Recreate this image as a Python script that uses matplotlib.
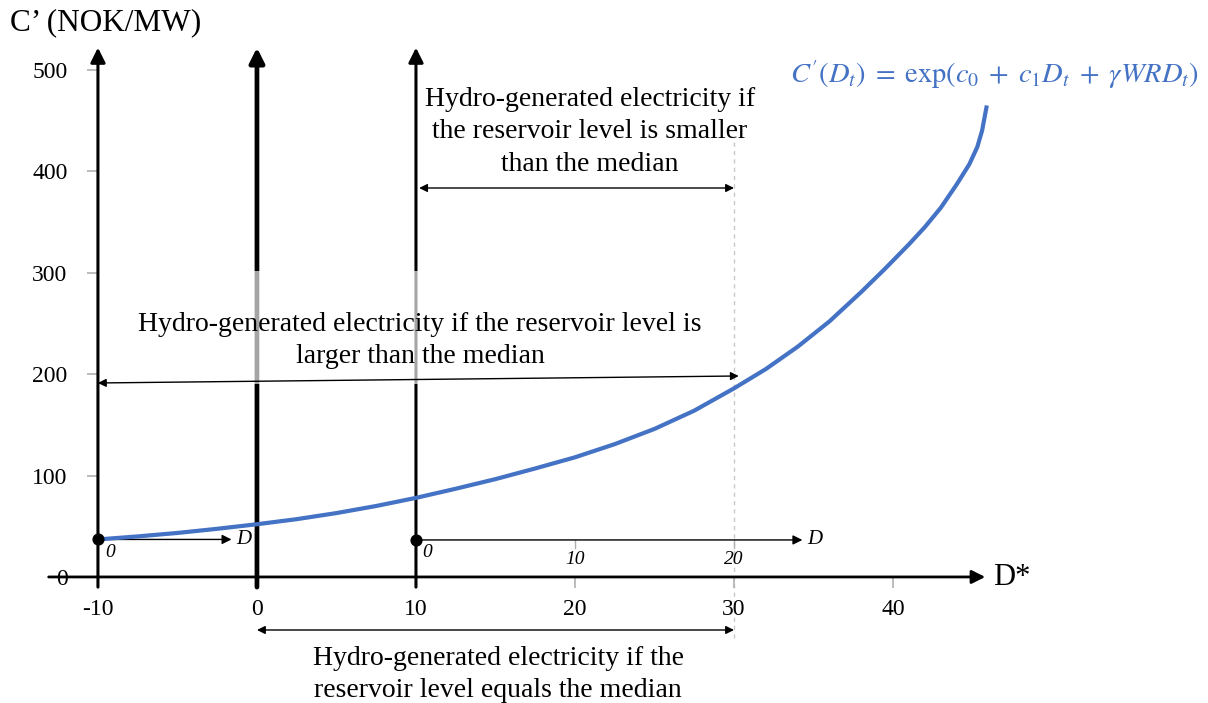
import matplotlib.pyplot as plt
from matplotlib.patches import Rectangle

plt.rcParams['font.family'] = ['Liberation Serif', 'DejaVu Serif']
plt.rcParams['mathtext.fontset'] = 'stix'
plt.rcParams['axes.unicode_minus'] = False

# curve C'(D*)
d_star = [-10, -7.5, -5, -2.5, 0, 2.5, 5, 7.5, 10, 12.5, 15, 17.5, 20, 22.5, 25, 27.5, 30,
          32, 34, 36, 38, 39.5, 41, 42, 43, 44, 44.8, 45.3, 45.6, 45.9]
c_prime = [37, 40, 43.4, 47.5, 52, 57, 63, 70, 78, 87, 96.5, 107, 118, 131, 146, 164, 186,
           205, 227, 252, 281, 304, 328, 345, 364, 387, 407, 424, 440, 465]

x_ticks = [-10, 0, 10, 20, 30, 40]
y_ticks = [0, 100, 200, 300, 400, 500]
# shifted D scale starting at D*=10
inner_pos = [10, 20, 30]
inner_lbl = ["0", "10", "20"]

blue = '#4472C4'
grey = '#b0b0b0'

fig = plt.figure(figsize=(12.08, 7.03), dpi=100)
ax = fig.add_axes([0, 0, 1, 1])
ax.set_xlim(-16.16, 59.81)
ax.set_ylim(-124.3, 569.0)

# axes ticks via spines placed in data coords
for s in ['top', 'right']:
    ax.spines[s].set_visible(False)
ax.spines['left'].set_position(('data', -10))
ax.spines['bottom'].set_position(('data', 0))
ax.spines['left'].set_edgecolor('none')
ax.spines['bottom'].set_edgecolor('none')
ax.set_xticks(x_ticks)
ax.set_yticks(y_ticks)
ax.tick_params(axis='both', direction='out', color=grey, length=8, width=1.2, labelsize=17)
ax.tick_params(axis='y', pad=14)
ax.tick_params(axis='x', pad=8)

# main x axis with arrow
ax.annotate('', xy=(45.8, 0), xytext=(-13.1, 0),
            arrowprops=dict(arrowstyle='-|>', lw=2.0, color='black', mutation_scale=20, shrinkA=0, shrinkB=0), zorder=3)
ax.text(46.3, -1, "D*", fontsize=22, va='center', ha='left')

# vertical axes
for xv, lw in [(-10, 2.2), (0, 3.4), (10, 2.2)]:
    ax.annotate('', xy=(xv, 522), xytext=(xv, -10),
                arrowprops=dict(arrowstyle='-|>', lw=lw, color='black', mutation_scale=22, shrinkA=0, shrinkB=0), zorder=2)
ax.text(-15.5, 547, "C\u2019 (NOK/MW)", fontsize=22.5, va='center', ha='left')

# dashed reference at D*=30
ax.plot([30, 30], [-60, 431], color='#c8c8c8', ls=(0, (3, 3)), lw=1, zorder=1)

# semi transparent text box
ax.add_patch(Rectangle((-9, 190), 38, 112, facecolor='white', edgecolor='none', alpha=0.65, zorder=3))

# curve
ax.plot(d_star, c_prime, color=blue, lw=3, zorder=5, solid_capstyle='butt', solid_joinstyle='round')
ax.text(59.2, 495, r"$C'(D_t)\;=\;\exp(c_0\;+\;c_1 D_t\;+\;\gamma WRD_t)$", fontsize=20.5, color=blue,
        ha='right', va='center')

# inner D axes
dots_x = [-10, 10]
dots_y = [37, 36.5]
ax.scatter(dots_x, dots_y, s=60, color='black', zorder=6)
ax.annotate('', xy=(-1.6, 37), xytext=(-10, 37),
            arrowprops=dict(arrowstyle='-|>', lw=1, color='black', mutation_scale=14, shrinkA=0, shrinkB=0), zorder=4)
ax.annotate('', xy=(34.3, 36.5), xytext=(10, 36.5),
            arrowprops=dict(arrowstyle='-|>', lw=1, color='black', mutation_scale=14, shrinkA=0, shrinkB=0), zorder=4)
ax.text(-1.3, 37, "D", fontsize=15, style='italic', va='center', ha='left')
ax.text(34.6, 36.5, "D", fontsize=15, style='italic', va='center', ha='left')
ax.text(-9.25, 24, "0", fontsize=14, style='italic', va='center', ha='center')
for p, l in zip(inner_pos, inner_lbl):
    if p != 10:
        ax.plot([p, p], [36.5, 29], color=grey, lw=1, zorder=3)
        ax.text(p, 17, l, fontsize=14, style='italic', va='center', ha='center')
    else:
        ax.text(p + 0.7, 24, l, fontsize=14, style='italic', va='center', ha='center')

# double arrows with captions
def span(x0, y0, x1, y1):
    ax.annotate('', xy=(x1, y1), xytext=(x0, y0),
                arrowprops=dict(arrowstyle='<|-|>', lw=1, color='black', mutation_scale=12, shrinkA=0, shrinkB=0), zorder=4)

span(10.2, 383.6, 30, 383.6)
ax.text(20.94, 439, "Hydro-generated electricity if\nthe reservoir level is smaller\nthan the median",
        fontsize=20, ha='center', va='center', linespacing=1.38, zorder=5)

span(-10, 191.3, 30.3, 198.2)
ax.text(10.25, 233, "Hydro-generated electricity if the reservoir level is\nlarger than the median",
        fontsize=20, ha='center', va='center', linespacing=1.38, zorder=5)

span(0, -52.3, 30, -52.3)
ax.text(15.16, -96, "Hydro-generated electricity if the\nreservoir level equals the median",
        fontsize=20, ha='center', va='center', linespacing=1.38, zorder=5)

fig.savefig("out.png", dpi=100)
